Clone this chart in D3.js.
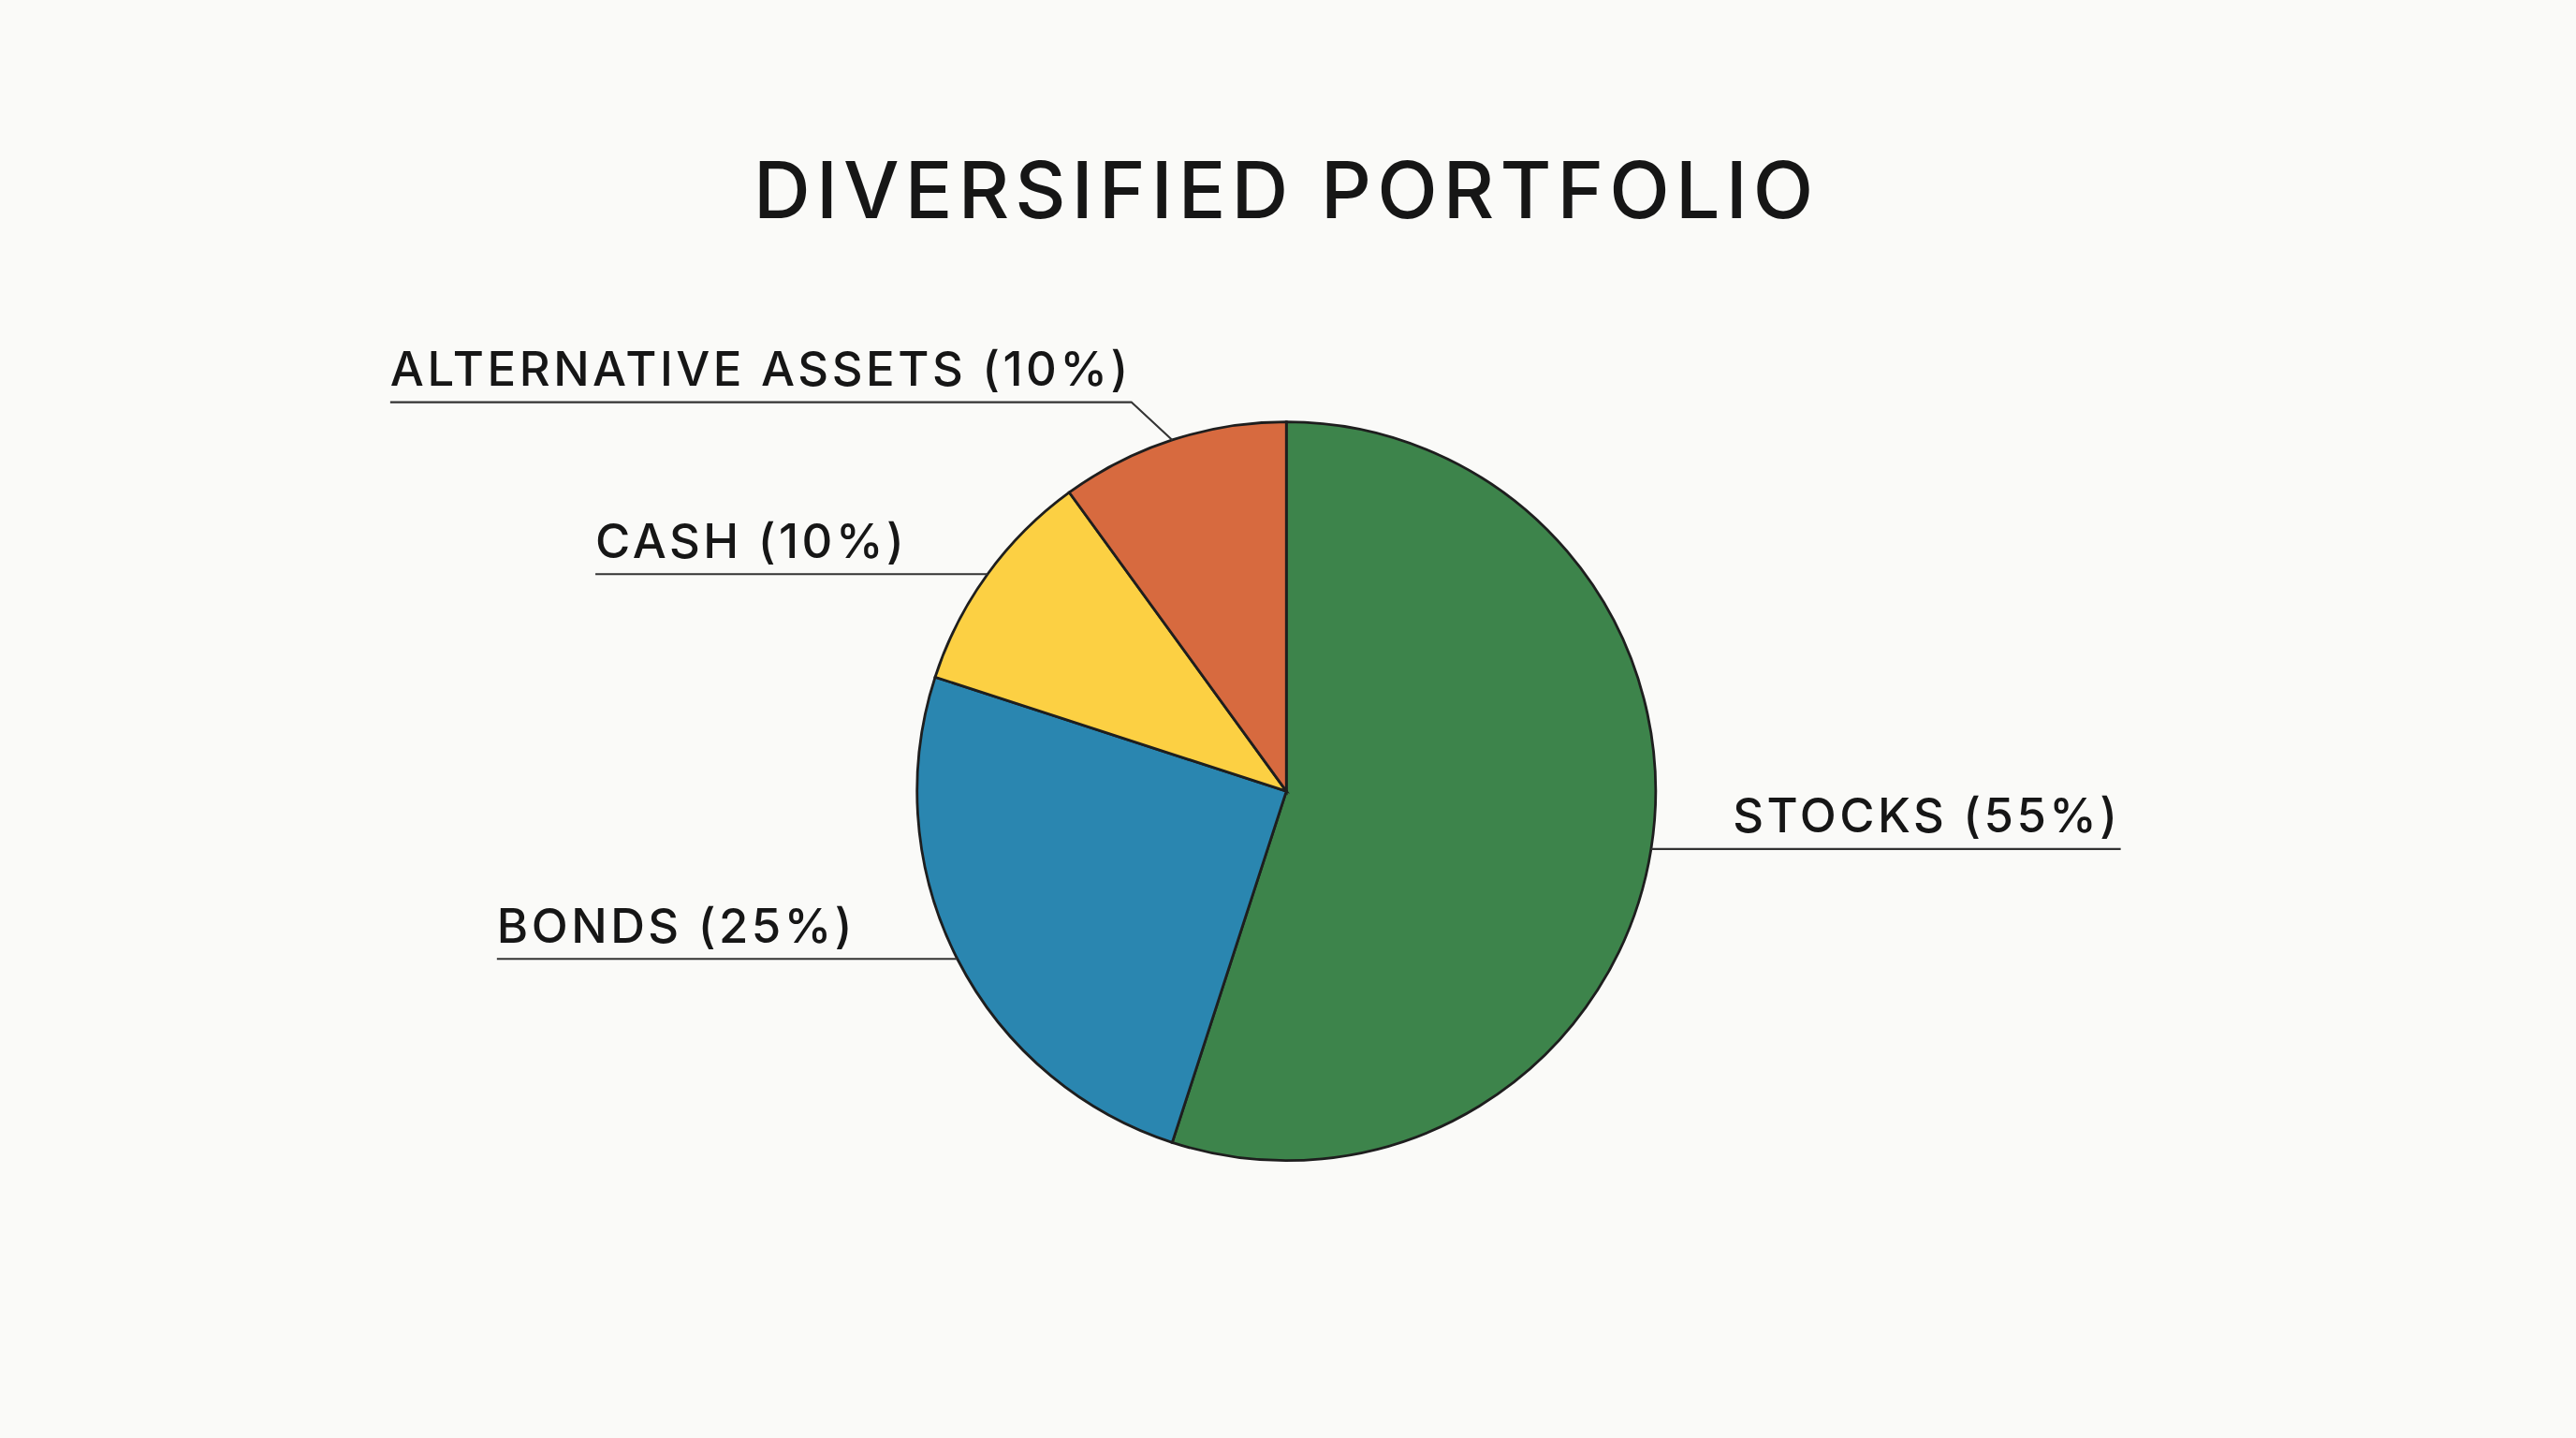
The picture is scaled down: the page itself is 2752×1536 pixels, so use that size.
<!DOCTYPE html>
<html>
<head>
<meta charset="utf-8">
<script src="https://cdn.jsdelivr.net/npm/d3@7"></script>
<style>
  html, body { margin: 0; padding: 0; background: #fafaf8; }
  svg { display: block; }
  text { font-family: Inter, "Open Sans", sans-serif; fill: #161616; }
</style>
</head>
<body>
<svg id="chart"></svg>
<script>
// chart data
const categories = ["STOCKS", "BONDS", "CASH", "ALTERNATIVE ASSETS"];
const shares = [55, 25, 10, 10];
const colors = ["#3d844b", "#2a86b0", "#fcd043", "#d76a3f"];
const title = "DIVERSIFIED PORTFOLIO";

// drawing in a 1568x876 design space, scaled to the window
const W = 1568, H = 876;
const cx = 783, cy = 482, r = 225;

const svg = d3.select("#chart")
  .attr("width", 2752).attr("height", 1536)
  .attr("viewBox", `0 0 ${W} ${H}`);

svg.append("rect").attr("width", W).attr("height", H).attr("fill", "#fafaf8");

svg.append("text")
  .attr("x", cx).attr("y", 133)
  .attr("text-anchor", "middle")
  .attr("font-size", 48).attr("font-weight", 500)
  .attr("letter-spacing", 3.5)
  .text(title);

const data = categories.map((c, i) => ({ name: c, value: shares[i], color: colors[i] }));
const pie = d3.pie().value(d => d.value).sort(null);
const arc = d3.arc().innerRadius(0).outerRadius(r);
const arcs = pie(data);

const g = svg.append("g").attr("transform", `translate(${cx},${cy})`);
g.selectAll("path")
  .data(arcs)
  .join("path")
  .attr("d", arc)
  .attr("fill", d => d.data.color)
  .attr("stroke", "#1e1e1e")
  .attr("stroke-width", 1.6);

// label placement
const labelPos = {
  "STOCKS": { x: 1055, side: "right" },
  "BONDS": { x: 302, side: "left" },
  "CASH": { x: 362, side: "left" },
  "ALTERNATIVE ASSETS": { x: 237, side: "left", lineY: 245 }
};

const labels = svg.append("g");
arcs.forEach(a => {
  const mid = (a.startAngle + a.endAngle) / 2;
  const ex = cx + r * Math.sin(mid);
  const ey = cy - r * Math.cos(mid);
  const p = labelPos[a.data.name];
  const ly = p.lineY !== undefined ? p.lineY : ey;
  const t = labels.append("text")
    .attr("x", p.x).attr("y", ly - 10)
    .attr("font-size", 29).attr("font-weight", 500)
    .attr("letter-spacing", 2)
    .text(`${a.data.name} (${a.data.value}%)`);
  const tw = t.node().getBBox().width;
  let pts;
  if (p.side === "right") {
    pts = [[ex, ey], [p.x + tw, ly]];
  } else if (p.lineY !== undefined) {
    pts = [[p.x, ly], [p.x + tw, ly], [ex, ey]];
  } else {
    pts = [[p.x, ly], [ex, ey]];
  }
  labels.append("path")
    .attr("d", d3.line()(pts))
    .attr("fill", "none")
    .attr("stroke", "#333")
    .attr("stroke-width", 1.2);
});
</script>
</body>
</html>
